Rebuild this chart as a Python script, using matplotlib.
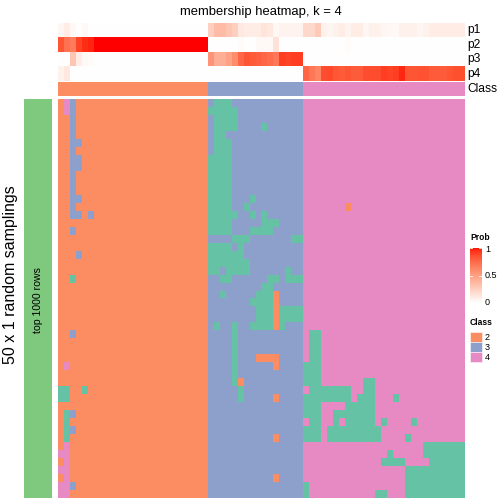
import numpy as np
import matplotlib
matplotlib.use("Agg")
import matplotlib.pyplot as plt
from matplotlib.colors import ListedColormap
from matplotlib.patches import Rectangle

plt.rcParams['font.family'] = ['Liberation Sans', 'DejaVu Sans']

# class colours (1..4) and the row-annotation colour
class_colors = ["#66C2A5", "#FC8D62", "#8DA0CB", "#E78AC3"]
row_anno_color = "#7FC97F"

# class of each column (top "Class" track)
col_class = "2222222222222222222222222" "3333333333333333" "444444444444444444444444444"

# predicted class of each column in each of the 50 random samplings
# (groups: class 2 columns | class 3 columns | class 4 columns)
membership = [
    "2432222222222222222222222 3111333333333333 444444444444444444444444444",
    "2432222222222222222222222 1111133333333333 444444444444444444444444444",
    "2232222222222222222222222 3111133333333333 444444444444444444444444444",
    "2232222222222222222222222 3111133331333333 444444444444444444444444444",
    "2232222222222222222222222 3113333333333333 444444444444444444444444444",
    "2233222222222222222222222 3111333333333333 444444444444444444444444444",
    "2232222222222222222222222 3111333333333333 444444444444444444444444444",
    "2233222222222222222222222 1111333333333333 444444444444444444444444444",
    "2233222222222222222222222 1111333333333333 444444444444444444444444444",
    "2232222222222222222222222 1111333333333333 444444444444444444444444444",
    "2232222222222222222222222 1111333333333333 444444444444444444444444444",
    "2232222222222222222222222 1111333333333333 444444444444444444444444444",
    "2233222222222222222222222 1111333133333333 444444444444444444444444444",
    "2232222222222222222222222 1111331333333333 444444424444444444444444444",
    "2233232222222222222222222 1111133131333333 444444444444444444444444444",
    "2222222222222222222222222 1111333331113333 444444444444444444444444444",
    "2232222222222222222222222 1111333111133333 444444444444444444444444444",
    "2222222222222222222222222 3333111333333311 444444444444444444444444444",
    "2222222222222222222222222 1111313333333333 444444444444444444444444444",
    "2223222222222222222222222 1111113333333333 444444444444444444444444444",
    "2222222222222222222222222 1111111333333333 444444444444444444444444444",
    "2222222222222222222222222 1131111333333133 444444444444444444444444444",
    "2212222222222222222222222 3311333333113111 444444444444444444444444444",
    "2222222222222222222222222 3333333331133333 444444444444444444444444444",
    "2222222222222222222222222 3313333311123333 444444444444444444444444444",
    "2222222222222222222222222 3333333111123333 444444444444444444444444444",
    "2222222222222222222222222 3333333311121111 444444444444444444444444444",
    "2222222222222222222222222 3333333311121111 444444444444444444444444444",
    "2222222222222222222222222 3133133111121333 444444444444444444444444444",
    "2232222222222222222222222 3333133333333333 411444444444444444444444444",
    "2222222222222222222222222 3333133333333333 411444444444444444444444444",
    "2222222222222222222222222 3333133333333333 411444444444444444444444444",
    "2222222222222222222222222 3333133322223333 411444444444444444444444444",
    "2422222222222222222222222 3333133333323333 111444444444444444444444444",
    "2222222222222222222222222 3333133333333333 111444444444444444444444444",
    "2222222222222222222222222 3333123333333333 111444444411444444444444444",
    "1122122222222222222222222 3333313333333333 411111114411444444444444444",
    "1122222222222222222222222 3333313333323333 111111114111444144444444444",
    "2222222222222222222222222 3333333333333333 111444411111444444444444444",
    "2132222222222222222222222 3333333333333333 111441111111444444444444444",
    "2122222222222222222222222 3333333333333333 411441411111414444144444444",
    "2132222222222222222222222 3333333333333333 111411111111144444444444444",
    "2122222222222222222222222 3333333333323333 111411111111144441444444444",
    "2422222222222222222222222 3333333333333333 444444444444444444441111111",
    "4422222222222222222222222 3333333333333333 444444444444441444441111111",
    "2422222222222222222222222 3333333333333333 444444444444411114444111111",
    "4422222222222222222222222 3333333333333333 444444444444444441111111111",
    "2422222222222222222222222 3333333333323333 444444444444444441111111111",
    "4432222222222222222222222 3333333333333333 144444444444444441111111111",
    "4422222222222222222222222 3333333333333333 144444444444114441111111111",
]

# membership probabilities per column (top annotation)
p1 = [0.05, 0.10, 0.03, 0.00, 0.03, 0.00, 0.00, 0.00, 0.00, 0.00, 0.00, 0.00, 0.00,
      0.00, 0.00, 0.00, 0.00, 0.00, 0.00, 0.00, 0.00, 0.00, 0.00, 0.00, 0.00,
      0.25, 0.35, 0.35, 0.30, 0.25, 0.12, 0.10, 0.10, 0.10, 0.14, 0.12, 0.04, 0.06, 0.06, 0.06, 0.06,
      0.20, 0.20, 0.28, 0.08, 0.05, 0.08, 0.10, 0.06, 0.10, 0.10, 0.05, 0.08, 0.08, 0.05,
      0.04, 0.03, 0.08, 0.08, 0.08, 0.05, 0.07, 0.10, 0.10, 0.10, 0.10, 0.10, 0.10]
p2 = [0.82, 0.70, 0.66, 0.88, 0.94, 0.96, 1.00, 1.00, 1.00, 1.00, 1.00, 1.00, 1.00,
      1.00, 1.00, 1.00, 1.00, 1.00, 1.00, 1.00, 1.00, 1.00, 1.00, 1.00, 1.00,
      0.00, 0.00, 0.00, 0.00, 0.00, 0.02, 0.00, 0.00, 0.03, 0.03, 0.03, 0.15, 0.00, 0.00, 0.00, 0.00,
      0.00, 0.00, 0.00, 0.00, 0.00, 0.00, 0.00, 0.02, 0.00, 0.00, 0.00, 0.00, 0.00, 0.00,
      0.00, 0.00, 0.00, 0.00, 0.00, 0.00, 0.00, 0.00, 0.00, 0.00, 0.00, 0.00, 0.00]
p3 = [0.00, 0.00, 0.30, 0.10, 0.03, 0.02, 0.00, 0.00, 0.00, 0.00, 0.00, 0.00, 0.00,
      0.00, 0.00, 0.00, 0.00, 0.00, 0.00, 0.00, 0.00, 0.00, 0.00, 0.00, 0.00,
      0.55, 0.42, 0.42, 0.48, 0.58, 0.75, 0.82, 0.80, 0.78, 0.75, 0.72, 0.68, 0.90, 0.88, 0.90, 0.90,
      0.00, 0.00, 0.00, 0.00, 0.00, 0.00, 0.00, 0.00, 0.00, 0.00, 0.00, 0.00, 0.00, 0.00,
      0.00, 0.00, 0.00, 0.00, 0.00, 0.00, 0.00, 0.00, 0.00, 0.00, 0.00, 0.00, 0.00]
p4 = [0.07, 0.12, 0.00, 0.00, 0.00, 0.00, 0.00, 0.00, 0.00, 0.00, 0.00, 0.00, 0.00,
      0.00, 0.00, 0.00, 0.00, 0.00, 0.00, 0.00, 0.00, 0.00, 0.00, 0.00, 0.00,
      0.00, 0.00, 0.00, 0.00, 0.00, 0.00, 0.00, 0.00, 0.00, 0.00, 0.00, 0.00, 0.00, 0.00, 0.00, 0.00,
      0.75, 0.68, 0.62, 0.85, 0.86, 0.82, 0.80, 0.82, 0.80, 0.80, 0.85, 0.85, 0.85, 0.90,
      0.88, 0.90, 0.95, 0.82, 0.82, 0.83, 0.83, 0.80, 0.80, 0.80, 0.82, 0.84, 0.84]
prob_names = ["p1", "p2", "p3", "p4"]
legend_classes = ["2", "3", "4"]


def lab_ramp(n=256):
    # white -> red interpolated in CIE Lab (like colorRamp2)
    t = np.linspace(0, 1, n)
    L = 100 + (53.24 - 100) * t
    a = 80.09 * t
    b = 67.20 * t
    fy = (L + 16) / 116
    fx = fy + a / 500
    fz = fy - b / 200
    finv = lambda f: np.where(f > 6 / 29, f ** 3, 3 * (6 / 29) ** 2 * (f - 4 / 29))
    X, Y, Z = 0.95047 * finv(fx), finv(fy), 1.08883 * finv(fz)
    rgb = np.stack([3.2406 * X - 1.5372 * Y - 0.4986 * Z,
                    -0.9689 * X + 1.8758 * Y + 0.0415 * Z,
                    0.0557 * X - 0.2040 * Y + 1.0570 * Z], -1)
    rgb = np.clip(rgb, 0, 1)
    rgb = np.where(rgb <= 0.0031308, 12.92 * rgb, 1.055 * rgb ** (1 / 2.4) - 0.055)
    return ListedColormap(np.clip(rgb, 0, 1))


prob_cmap = lab_ramp()
class_cmap = ListedColormap(class_colors)

M = np.array([[int(c) for c in row.replace(" ", "")] for row in membership])
C = np.array([[int(c) for c in col_class]])
P = np.array([p1, p2, p3, p4])

W = H = 504
fig = plt.figure(figsize=(7, 7), dpi=72)


def px_axes(x0, y0, x1, y1):
    ax = fig.add_axes([x0 / W, 1 - y1 / H, (x1 - x0) / W, (y1 - y0) / H])
    ax.set_axis_off()
    return ax


def fig_text(x, y, s, **kw):
    fig.text(x / W, 1 - y / H, s, **kw)


hx0, hx1 = 58, 464.6

# top annotation: probabilities
ax = px_axes(hx0, 23.3, hx1, 80.7)
ax.imshow(P, cmap=prob_cmap, vmin=0, vmax=1, aspect='auto', interpolation='nearest')
# top annotation: class
ax = px_axes(hx0, 82, hx1, 96)
ax.imshow(C, cmap=class_cmap, vmin=0.5, vmax=4.5, aspect='auto', interpolation='nearest')

# main heatmap
ax = px_axes(hx0, 99, hx1, 498)
ax.imshow(M, cmap=class_cmap, vmin=0.5, vmax=4.5, aspect='auto', interpolation='nearest')

# left row annotation
ax = px_axes(24, 99, 52, 498)
ax.imshow([[0]], cmap=ListedColormap([row_anno_color]), aspect='auto')

# texts
fig_text(261.3, 15.3, "membership heatmap, k = 4", ha='center', va='baseline', fontsize=13)
for i, name in enumerate(prob_names):
    fig_text(467.5, 23.3 + 14.35 * (i + 0.5), name, ha='left', va='center', fontsize=12)
fig_text(467.5, 89, "Class", ha='left', va='center', fontsize=12)
fig_text(11, 275, "50 x 1 random samplings", rotation=90, ha='center', va='center', fontsize=16)
fig_text(38, 300, "top 1000 rows", rotation=90, ha='center', va='center', fontsize=10.5)

# legend: Prob
fig_text(470, 240, "Prob", ha='left', va='baseline', fontsize=8.5, fontweight='bold')
ax = px_axes(470, 247.5, 481.5, 303.5)
ax.imshow(np.linspace(1, 0, 200)[:, None], cmap=prob_cmap, vmin=0, vmax=1,
          aspect='auto', extent=[0, 1, 0, 1])
ax.set_xlim(0, 1)
ax.set_ylim(0, 1)
for v in [0, 0.5, 1]:
    ax.plot([0, 0.2], [v, v], color='white', lw=0.8)
    ax.plot([0.8, 1], [v, v], color='white', lw=0.8)
for v, lab in zip([1, 0.5, 0], ["1", "0.5", "0"]):
    fig_text(485, 302.5 - 53 * v, lab, ha='left', va='center', fontsize=9)

# legend: Class
fig_text(470, 325, "Class", ha='left', va='baseline', fontsize=8.5, fontweight='bold')
for i, lab in enumerate(legend_classes):
    y0 = 332 + 10 * i
    fig.patches.append(Rectangle((470 / W, 1 - (y0 + 10) / H), 12 / W, 10 / H,
                                 transform=fig.transFigure, facecolor=class_colors[int(lab) - 1],
                                 edgecolor='white', lw=0.5))
    fig_text(485, y0 + 5, lab, ha='left', va='center', fontsize=9)

fig.savefig("out.png", dpi=72)
plt.close(fig)
